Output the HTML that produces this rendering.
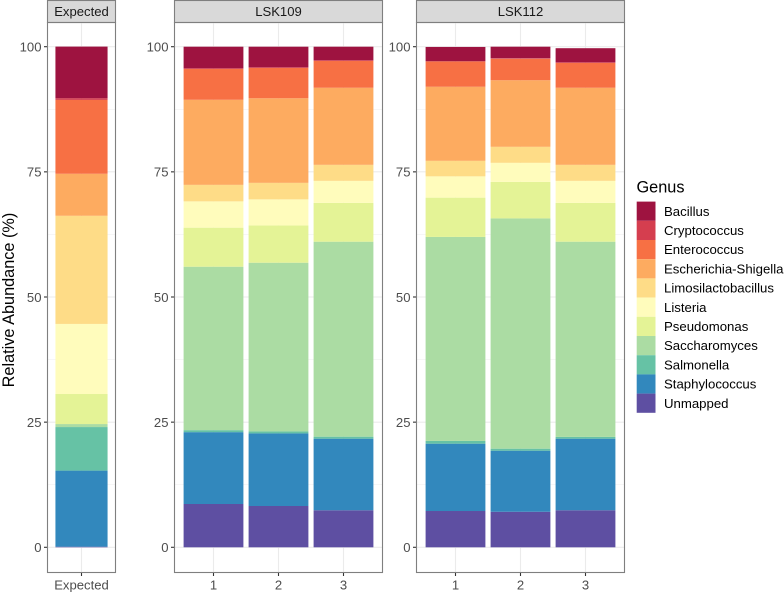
<!DOCTYPE html>
<html lang="en">
<head>
<meta charset="utf-8">
<title>Relative abundance by genus</title>
<style>
  html, body { margin: 0; padding: 0; background: #fff; }
  svg { display: block; font-family: "Liberation Sans", Arial, sans-serif; }
</style>
</head>
<body>
<svg id="chart" width="784" height="592" viewBox="0 0 784 592" xmlns="http://www.w3.org/2000/svg"></svg>
<script>
const facets = ['Expected', 'LSK109', 'LSK112'];
const sampleFacet = [0, 1, 1, 1, 2, 2, 2];
const sampleLabels = ['Expected', '1', '2', '3', '1', '2', '3'];
const yTicks = [0, 25, 50, 75, 100];
const yMinorTicks = [12.5, 37.5, 62.5, 87.5];
const genera = ['Bacillus', 'Cryptococcus', 'Enterococcus', 'Escherichia-Shigella', 'Limosilactobacillus', 'Listeria', 'Pseudomonas', 'Saccharomyces', 'Salmonella', 'Staphylococcus', 'Unmapped'];
const bacillus = [10.3, 4.3, 4.1, 2.7, 2.85, 2.3, 2.8];
const cryptococcus = [0.35, 0.15, 0.15, 0.15, 0.05, 0.1, 0.15];
const enterococcus = [14.75, 6.15, 6.05, 5.35, 5.05, 4.3, 4.95];
const escherichia = [8.4, 17.0, 16.9, 15.4, 14.8, 13.3, 15.4];
const limosilactobacillus = [21.6, 3.3, 3.3, 3.2, 3.1, 3.2, 3.2];
const listeria = [14.0, 5.25, 5.2, 4.4, 4.25, 3.8, 4.4];
const pseudomonas = [6.0, 7.8, 7.45, 7.75, 7.85, 7.3, 7.75];
const saccharomyces = [0.6, 32.65, 33.7, 38.95, 40.75, 46.0, 39.0];
const salmonella = [8.7, 0.4, 0.4, 0.4, 0.55, 0.4, 0.35];
const staphylococcus = [15.2, 14.35, 14.5, 14.3, 13.45, 12.2, 14.3];
const unmapped = [0.12, 8.65, 8.25, 7.4, 7.25, 7.1, 7.4];
const seriesValues = [bacillus, cryptococcus, enterococcus, escherichia, limosilactobacillus, listeria, pseudomonas, saccharomyces, salmonella, staphylococcus, unmapped];
const colors = ['#9E1340', '#D53E4F', '#F77044', '#FDAB60', '#FEDC87', '#FFFCBC', '#E4F396', '#ABDCA3', '#66C2A5', '#3288BD', '#5E4FA2'];

const NS = 'http://www.w3.org/2000/svg';
const svg = document.getElementById('chart');
const PANEL_TOP = 22.5, PANEL_BOTTOM = 572.5;
const panelLeft = [47.5, 174.5, 416.5];
const panelRight = [115.5, 382.5, 624.5];
const BORDER = '#7f7f7f';
const SMALL_FONT = 13.1, LEGEND_FONT = 13.2, TITLE_FONT = 16.3;

function yScale(v) { return 547.3 - v * 5.006; }
function bandWidth(f) {
  const n = sampleFacet.filter(function (x) { return x === f; }).length;
  return (panelRight[f] - panelLeft[f]) / (n + 0.2);
}
function xCenter(f, slot) {
  return panelLeft[f] + bandWidth(f) * (0.6 + slot);
}
function make(tag, attrs, text) {
  const el = document.createElementNS(NS, tag);
  for (const k in attrs) el.setAttribute(k, attrs[k]);
  if (text !== undefined) el.textContent = text;
  svg.appendChild(el);
  return el;
}

facets.forEach(function (name, f) {
  const L = panelLeft[f], R = panelRight[f];
  const strip = make('rect', { x: L, y: 0.5, width: R - L, height: PANEL_TOP - 0.5, fill: '#d9d9d9', stroke: BORDER, 'stroke-width': 1.1 });
  
  
  const stripText = make('text', { x: (L + R) / 2, y: 16, 'text-anchor': 'middle', 'font-size': SMALL_FONT, fill: '#1a1a1a' }, name);
  
  

  yMinorTicks.forEach(function (t) {
    const g = make('line', { x1: L, x2: R, y1: yScale(t), y2: yScale(t), stroke: '#f0f0f0', 'stroke-width': 0.6 });
    
    
  });
  yTicks.forEach(function (t) {
    const g = make('line', { x1: L, x2: R, y1: yScale(t), y2: yScale(t), stroke: '#ebebeb', 'stroke-width': 1.1 });
    
    
    const tick = make('line', { x1: L - 3.5, x2: L, y1: yScale(t), y2: yScale(t), stroke: '#333333', 'stroke-width': 1.1 });
    
    
    const label = make('text', { x: L - 6, y: yScale(t) + 4.8, 'text-anchor': 'end', 'font-size': SMALL_FONT, fill: '#4d4d4d' }, String(t));
    
    
  });
});

const slotCounts = [0, 0, 0];
sampleLabels.forEach(function (label, s) {
  const f = sampleFacet[s];
  const slot = slotCounts[f]++;
  const cx = xCenter(f, slot);
  const g = make('line', { x1: cx, x2: cx, y1: PANEL_TOP, y2: PANEL_BOTTOM, stroke: '#ebebeb', 'stroke-width': 1.1 });
  
  
  const tick = make('line', { x1: cx, x2: cx, y1: PANEL_BOTTOM, y2: PANEL_BOTTOM + 3.5, stroke: '#333333', 'stroke-width': 1.1 });
  
  
  const text = make('text', { x: cx, y: 589.5, 'text-anchor': 'middle', 'font-size': SMALL_FONT, fill: '#4d4d4d' }, label);
  
  

  const w = bandWidth(f) * 0.92;
  let cum = 0;
  for (let i = genera.length - 1; i >= 0; i--) {
    const v = seriesValues[i][s];
    const yTop = yScale(cum + v);
    const yBot = yScale(cum);
    const bar = make('rect', { x: cx - w / 2, y: yTop, width: w, height: yBot - yTop, fill: colors[i] });
    
    
    cum += v;
  }
});

facets.forEach(function (name, f) {
  const border = make('rect', { x: panelLeft[f], y: PANEL_TOP, width: panelRight[f] - panelLeft[f], height: PANEL_BOTTOM - PANEL_TOP, fill: 'none', stroke: BORDER, 'stroke-width': 1.1 });
  
  
});

const yTitle = make('text', { transform: 'translate(14 300) rotate(-90)', 'text-anchor': 'middle', 'font-size': TITLE_FONT, fill: '#000' }, 'Relative Abundance (%)');



const legendTitle = make('text', { x: 636.5, y: 192.5, 'font-size': TITLE_FONT, fill: '#000' }, 'Genus');



genera.forEach(function (name, i) {
  const y = 201.6 + i * 19.2;
  const key = make('rect', { x: 636.7, y: y, width: 18.8, height: 19.2, fill: colors[i] });
  
  
  const label = make('text', { x: 664, y: y + 14.2, 'font-size': LEGEND_FONT, fill: '#000' }, name);
  
  
});
</script>
</body>
</html>
